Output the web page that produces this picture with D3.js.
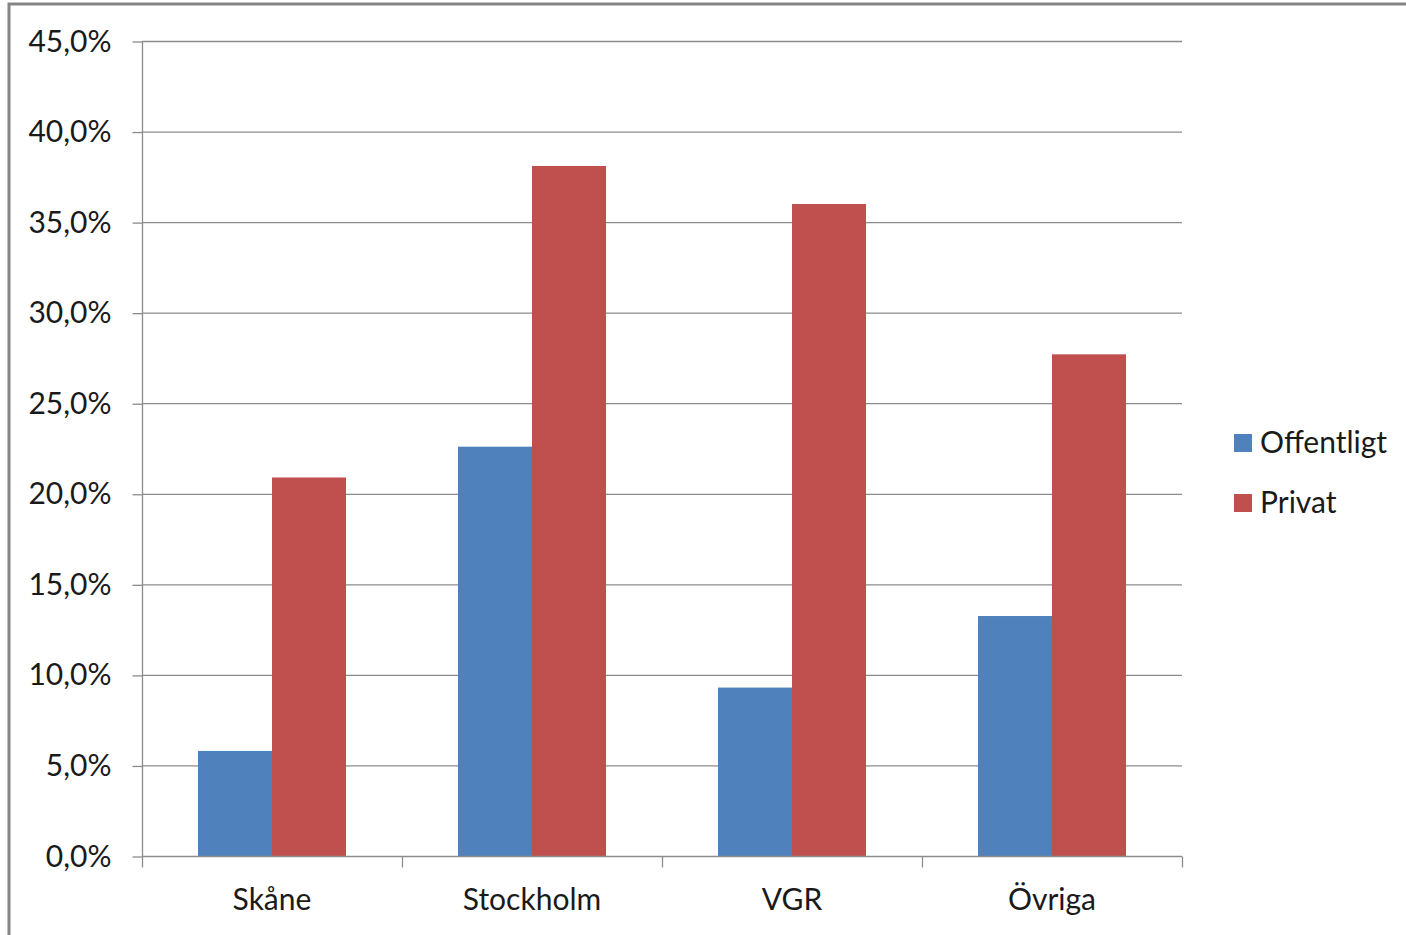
<!DOCTYPE html>
<html>
<head>
<meta charset="utf-8">
<script src="https://cdn.jsdelivr.net/npm/d3@7"></script>
<style>
  body { margin: 0; background: #fff; }
  svg text { font-family: Lato, "Open Sans", sans-serif; fill: #1a1a1a; }
</style>
</head>
<body>
<script>
// data
var categories = ["Skåne", "Stockholm", "VGR", "Övriga"];
var seriesNames = ["Offentligt", "Privat"];
var offentligt = [0.058, 0.226, 0.093, 0.1325];
var privat = [0.209, 0.381, 0.360, 0.277];
var yTicks = [0, 0.05, 0.10, 0.15, 0.20, 0.25, 0.30, 0.35, 0.40, 0.45];
var colors = ["#4F81BD", "#C0504D"];

var width = 1406, height = 935;
var plotLeft = 142, plotRight = 1182, plotTop = 41, plotBottom = 856;
var fontSize = 30;

var svg = d3.select("body").append("svg")
    .attr("width", width)
    .attr("height", height);

// frame of the chart area (right and bottom run off the picture)
svg.append("rect")
    .attr("x", 9).attr("y", 4)
    .attr("width", 1600).attr("height", 1200)
    .attr("fill", "none")
    .attr("stroke", "#868686")
    .attr("stroke-width", 3);

var y = d3.scaleLinear().domain([0, 0.45]).range([plotBottom, plotTop]);
var x0 = d3.scaleBand().domain(categories).range([plotLeft, plotRight]);
var x1 = d3.scaleBand().domain(seriesNames).range([56, x0.bandwidth() - 56]);

var fmt = function(v){ return (v * 100).toFixed(1).replace(".", ",") + "%"; };

// gridlines
svg.append("g").selectAll("line")
    .data(yTicks.filter(function(d){ return d > 0; }))
    .enter().append("line")
    .attr("x1", plotLeft).attr("x2", plotRight)
    .attr("y1", function(d){ return y(d) + 0.5; })
    .attr("y2", function(d){ return y(d) + 0.5; })
    .attr("stroke", "#8c8c8c").attr("stroke-width", 1.3);

// bars
var rows = categories.map(function(c, i){
    return {cat: c, vals: [offentligt[i], privat[i]]};
});
var g = svg.append("g").selectAll("g")
    .data(rows).enter().append("g")
    .attr("transform", function(d){ return "translate(" + x0(d.cat) + ",0)"; });
g.selectAll("rect")
    .data(function(d){ return d.vals.map(function(v, j){ return {s: seriesNames[j], v: v, c: colors[j]}; }); })
    .enter().append("rect")
    .attr("x", function(d){ return x1(d.s); })
    .attr("width", x1.bandwidth())
    .attr("y", function(d){ return y(d.v); })
    .attr("height", function(d){ return y(0) - y(d.v); })
    .attr("fill", function(d){ return d.c; });

// y axis
var yAxis = svg.append("g")
    .attr("transform", "translate(" + (plotLeft + 0.5) + ",0.5)")
    .call(d3.axisLeft(y).tickValues(yTicks).tickFormat(fmt).tickSize(10).tickPadding(21));
yAxis.selectAll("line, path").attr("stroke", "#8c8c8c").attr("stroke-width", 1.3);
yAxis.select(".domain").attr("d", "M0," + plotTop + "V" + plotBottom);
yAxis.selectAll("text")
    .style("font-family", "Lato, sans-serif")
    .attr("font-size", fontSize).attr("fill", "#1a1a1a");

// x axis
var xAxis = svg.append("g")
    .attr("transform", "translate(0," + (plotBottom + 0.5) + ")");
xAxis.append("line")
    .attr("x1", plotLeft).attr("x2", plotRight)
    .attr("stroke", "#8c8c8c").attr("stroke-width", 1.3);
var edges = categories.map(function(c){ return x0(c); }).concat([plotRight]);
xAxis.selectAll(".tk").data(edges).enter().append("line")
    .attr("x1", function(d){ return d + 0.5; })
    .attr("x2", function(d){ return d + 0.5; })
    .attr("y1", 0).attr("y2", 11)
    .attr("stroke", "#8c8c8c").attr("stroke-width", 1.3);
xAxis.selectAll("text").data(categories).enter().append("text")
    .attr("x", function(d){ return x0(d) + x0.bandwidth() / 2; })
    .attr("y", 53)
    .attr("text-anchor", "middle")
    .attr("font-size", fontSize)
    .text(function(d){ return d; });

// legend
var leg = svg.append("g").selectAll("g")
    .data(seriesNames).enter().append("g")
    .attr("transform", function(d, i){ return "translate(1234," + (434 + i * 60) + ")"; });
leg.append("rect")
    .attr("width", 18).attr("height", 18)
    .attr("fill", function(d, i){ return colors[i]; });
leg.append("text")
    .attr("x", 26).attr("y", 19)
    .attr("font-size", fontSize)
    .text(function(d){ return d; });
</script>
</body>
</html>
